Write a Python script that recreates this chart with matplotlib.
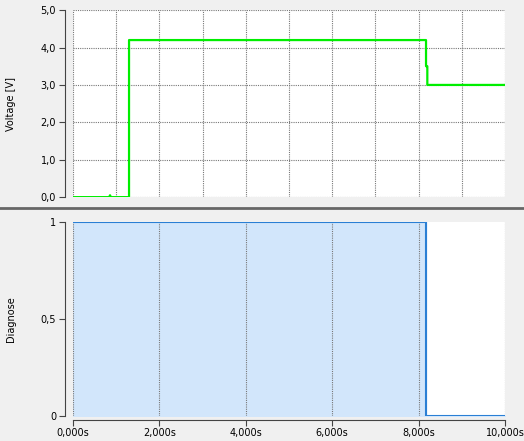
import matplotlib.pyplot as plt
from matplotlib.ticker import FuncFormatter
from matplotlib.lines import Line2D

# Voltage trace (step points)
volt_t = [0.0, 0.84, 0.86, 0.88, 1.30, 1.30, 8.17, 8.17, 8.20, 8.20, 10.0]
volt_v = [0.0, 0.0, 0.05, 0.0, 0.0, 4.2, 4.2, 3.5, 3.5, 3.0, 3.0]

# Diagnose trace
diag_t = [0.0, 8.17, 8.17, 10.0]
diag_v = [1, 1, 0, 0]

bg = '#f0f0f0'
fig = plt.figure(figsize=(5.24, 4.41), dpi=100, facecolor=bg)
ax1 = fig.add_axes([0.139, 0.553, 0.825, 0.424])
ax2 = fig.add_axes([0.139, 0.057, 0.825, 0.44])

comma = lambda fmt: FuncFormatter(lambda v, p: fmt.format(v).replace('.', ','))

ax1.plot(volt_t, volt_v, color='#00ee00', lw=1.6)
ax1.set_xlim(0, 10)
ax1.set_ylim(0, 5)
ax1.set_xticks(range(0, 11))
ax1.set_yticks([0, 1, 2, 3, 4, 5])
ax1.yaxis.set_major_formatter(comma('{:.1f}'))
ax1.set_ylabel('Voltage [V]', fontsize=7, labelpad=18)

ax2.fill_between(diag_t, diag_v, color='#d2e6fb')
ax2.plot(diag_t, diag_v, color='#2a7fd4', lw=1.5)
ax2.set_xlim(0, 10)
ax2.set_ylim(0, 1)
ax2.set_xticks([0, 2, 4, 6, 8, 10])
ax2.set_yticks([0, 0.5, 1])
ax2.xaxis.set_major_formatter(comma('{:.3f}s'))
ax2.yaxis.set_major_formatter(FuncFormatter(lambda v, p: ('%g' % v).replace('.', ',')))
ax2.set_ylabel('Diagnose', fontsize=7, labelpad=18)

for ax in (ax1, ax2):
    ax.set_facecolor('white')
    ax.grid(True, color='#777777', ls=(0, (1, 1)), lw=0.8)
    for s in ('top', 'right'):
        ax.spines[s].set_visible(False)
    ax.spines['left'].set_position(('outward', 6))
    ax.spines['bottom'].set_position(('outward', 3))
    ax.spines['left'].set_color('#444444')
    ax.spines['bottom'].set_color('#444444')
    ax.tick_params(labelsize=7, color='#444444', length=4, pad=2)
ax1.spines['bottom'].set_visible(False)
ax1.tick_params(axis='x', length=0, labelbottom=False)
ax2.grid(False, axis='y')

fig.add_artist(Line2D([0, 1], [0.528, 0.528], color='#666666', lw=2, transform=fig.transFigure))

fig.savefig('out.png', dpi=100, facecolor=bg)
